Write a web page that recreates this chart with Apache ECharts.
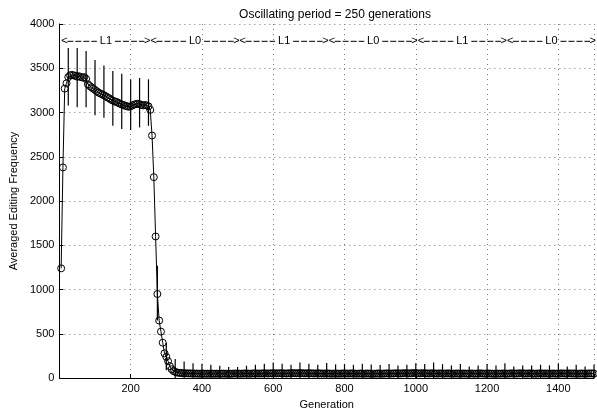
<!DOCTYPE html>
<html><head><meta charset="utf-8">
<script src="https://cdn.jsdelivr.net/npm/echarts@6/dist/echarts.min.js"></script>
<style>html,body{margin:0;padding:0;background:#fff}#c{width:597px;height:415px}</style>
</head><body><div id="c"></div><script>
const chartTitle = 'Oscillating period = 250 generations';
const xName = 'Generation';
const yName = 'Averaged Editing Frequency';
const genStep = 5;       // one sample every 5 generations, first at 5
const errStep = 25;      // one error bar every 25 generations, first at 25
const freqValues = [
  1240,2380,3270,3330,3400,3420,3425,3420,3415,3405,3410,3400,3395,3400,3380,3320,3300,3285,3270,3255,
  3240,3225,3215,3205,3195,3185,3170,3160,3145,3135,3125,3120,3110,3100,3090,3085,3075,3070,3065,3070,
  3080,3090,3095,3100,3095,3085,3080,3085,3080,3070,3030,2740,2270,1600,950,650,525,400,280,240,
  190,135,100,80,70,63,60,58,
  56,55,54,53,53,52,52,51,51,50,50,51,50,49,50,50,51,50,49,50,
  50,49,50,51,50,50,49,49,50,51,52,51,50,50,51,52,52,51,50,51,
  52,53,52,51,52,53,54,53,52,53,54,55,54,53,54,55,54,53,52,53,
  54,55,56,55,54,55,56,55,54,53,54,55,54,53,52,53,54,53,52,51,
  52,53,52,51,50,51,52,51,50,51,52,53,52,51,52,53,52,51,50,51,
  52,51,50,51,52,51,50,49,50,51,52,51,50,51,52,53,52,51,52,53,
  54,53,52,53,54,55,54,53,54,55,56,55,54,53,54,55,54,53,52,53,
  54,53,52,51,52,53,52,51,52,53,52,51,50,51,52,51,50,51,52,51,
  50,51,52,51,50,51,52,53,52,51,50,51,52,51,50,49,50,51,50,51,
  52,51,50,51,52,53,52,51,52,53,54,53,52,51,52,53,52,51,50,51,
  52,53,52,51,52,51,50,51,52,51,50,51,52,53,52,51,52,53,52,51,
  52,51,50,51,52,51,50,51,52,53,52,51
];
const errLow = [
  3080,3060,3060,2970,2942,2850,2813,2802,2832,2850,
  650,90,-80,-80,-60,-55,-45,-35,-20,-20,
  -35,-45,-55,-70,-55,-45,-70,-55,-45,-65,
  -50,-55,-45,-55,-50,-45,-55,-40,-50,-60,
  -50,-70,-50,-40,-50,-35,-40,-50,-40,-60,
  -35,-40,-40,-45,-40,-65,-35,-45,-35,-45
];
const errHigh = [
  3730,3730,3696,3592,3530,3468,3438,3372,3390,3375,
  1270,400,215,187,169,162,151,140,125,125,
  140,151,162,176,162,151,176,162,151,170,
  155,160,150,162,155,148,160,143,151,169,
  158,176,158,143,158,132,143,158,143,169,
  132,143,143,151,143,169,132,151,132,151
];
const phaseStarts = [0,250,500,750,1000,1250];
const phaseLabels = ['L1','L0','L1','L0','L1','L0'];
const phaseLength = 250;
const phaseTextY = 3810;

const FONT = 'Liberation Sans, Arial, Helvetica, sans-serif';
const lineData = freqValues.map((v,i)=>[(i+1)*genStep, v]);
const errData = errLow.map((lo,i)=>[(i+1)*errStep, lo, errHigh[i]]);
const phaseData = phaseStarts.map((s,i)=>[s, s+phaseLength, phaseTextY, i]);

const chart = echarts.init(document.getElementById('c'), null, {renderer:'canvas'});
const dotted = {color:'#777', width:1, type:[1,4]};
chart.setOption({
  animation:false,
  backgroundColor:'#fff',
  title:{text:chartTitle, left:330, textAlign:'center', top:4,
    textStyle:{fontFamily:FONT, fontSize:12, fontWeight:'normal', color:'#000'}},
  grid:{left:58, top:24, width:542, height:363},
  xAxis:{type:'value', min:0, max:1500, interval:200,
    name:xName, nameLocation:'middle', nameGap:17,
    nameTextStyle:{fontFamily:FONT, fontSize:11, color:'#000'},
    axisLine:{show:true, lineStyle:{color:'#000', width:1}},
    axisTick:{show:true, inside:true, length:4, lineStyle:{color:'#000'}},
    axisLabel:{fontFamily:FONT, fontSize:11, color:'#000', margin:5,
      formatter:v=> (v===0||v===1500)?'':String(v)},
    splitLine:{show:true, lineStyle:dotted}},
  yAxis:{type:'value', min:0, max:4000, interval:500,
    name:yName, nameLocation:'middle', nameGap:40,
    nameTextStyle:{fontFamily:FONT, fontSize:11, color:'#000'},
    axisLine:{show:true, lineStyle:{color:'#000', width:1}},
    axisTick:{show:true, inside:true, length:4, lineStyle:{color:'#000'}},
    axisLabel:{fontFamily:FONT, fontSize:11, color:'#000', margin:5,
      formatter:v=>String(v)},
    splitLine:{show:true, lineStyle:dotted}},
  series:[
    {type:'custom', name:'err', clip:true, z:2,
     data:errData, encode:{x:0, y:[1,2]},
     renderItem:(params, api)=>{
       const a = api.coord([api.value(0), api.value(1)]);
       const b = api.coord([api.value(0), api.value(2)]);
       return {type:'line', shape:{x1:a[0], y1:a[1], x2:b[0], y2:b[1]},
         style:{stroke:'#000', lineWidth:1.2}};
     }},
    {type:'line', name:'freq', data:lineData, z:3,
     symbol:'circle', symbolSize:7, showAllSymbol:true,
     itemStyle:{color:'rgba(0,0,0,0)', borderColor:'#000', borderWidth:1},
     lineStyle:{color:'#000', width:1}},
    {type:'custom', name:'phases', clip:false, z:4,
     data:phaseData, encode:{x:[0,1], y:2},
     renderItem:(params, api)=>{
       const p0 = api.coord([api.value(0), api.value(2)]);
       const p1 = api.coord([api.value(1), api.value(2)]);
       const x0 = p0[0]+2, x1 = p1[0]+2, y = p0[1];
       const cx = (x0+x1)/2;
       const lbl = phaseLabels[api.value(3)];
       const ts = {fontFamily:FONT, fontSize:11, fill:'#000', verticalAlign:'middle'};
       const ls = {stroke:'#000', lineWidth:1, lineDash:[6,2]};
       return {type:'group', children:[
         {type:'text', style:Object.assign({text:'<', x:x0, y:y, align:'left'}, ts)},
         {type:'text', style:Object.assign({text:'>', x:x1, y:y, align:'right'}, ts)},
         {type:'text', style:Object.assign({text:lbl, x:cx, y:y, align:'center'}, ts)},
         {type:'line', shape:{x1:x0+6, y1:y+0.5, x2:cx-9, y2:y+0.5}, style:ls},
         {type:'line', shape:{x1:cx+9, y1:y+0.5, x2:x1-6, y2:y+0.5}, style:ls}
       ]};
     }}
  ]
});
</script></body></html>
